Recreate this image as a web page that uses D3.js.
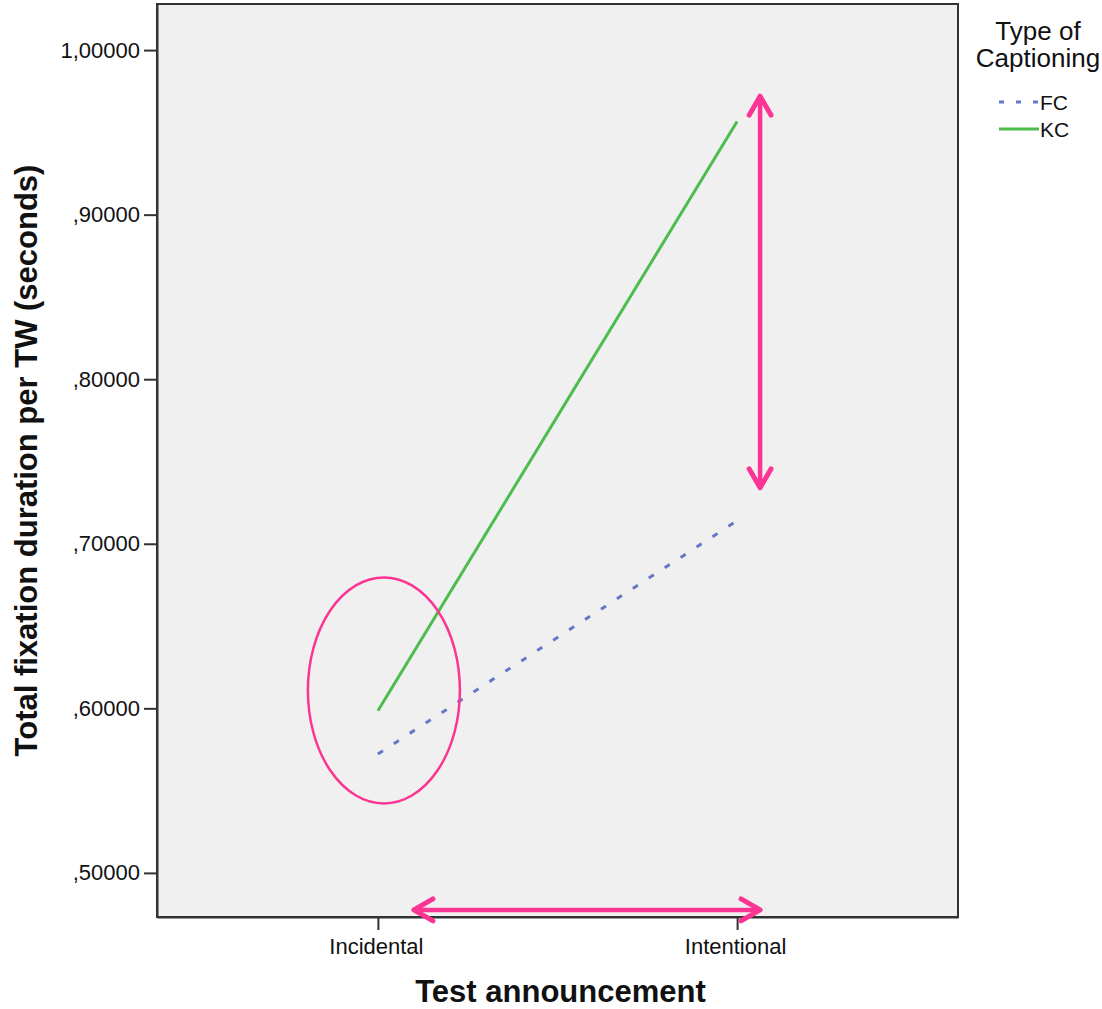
<!DOCTYPE html>
<html>
  <head>
    <meta charset="utf-8">
    <title>Total fixation duration per TW</title>
    <script src="https://d3js.org/d3.v7.min.js"></script>
    <style>
      body { margin: 0; background: #fff; }
      text { font-family: "Liberation Sans", Arial, sans-serif; fill: #111; }
    </style>
  </head>
  <body>
    <svg id="chart" width="1102" height="1009"></svg>
    <script>
      // data
      const categories = ["Incidental", "Intentional"];
      const series = ["FC", "KC"];
      const fcValues = [0.5722, 0.7140];
      const kcValues = [0.5985, 0.9566];
      const yTicks = [0.5, 0.6, 0.7, 0.8, 0.9, 1.0];
      const yTickLabels = [",50000", ",60000", ",70000", ",80000", ",90000", "1,00000"];

      const width = 1102, height = 1009;
      const margin = { top: 4, right: 144, bottom: 92, left: 157 };
      const pink = "#fb3593";

      const svg = d3.select("#chart");

      const x = d3.scalePoint()
        .domain(categories)
        .range([margin.left, width - margin.right])
        .padding(0.615);
      const y = d3.scaleLinear()
        .domain([0.4732, 1.028])
        .range([height - margin.bottom, margin.top]);

      // plot background
      svg.append("rect")
        .attr("x", margin.left)
        .attr("y", margin.top)
        .attr("width", width - margin.left - margin.right)
        .attr("height", height - margin.top - margin.bottom)
        .attr("fill", "#f0f0f0")
        .attr("stroke", "#333")
        .attr("stroke-width", 2);

      // axes
      const yAxis = d3.axisLeft(y)
        .tickValues(yTicks)
        .tickFormat(function(d, i) { return yTickLabels[i]; })
        .tickSizeInner(13)
        .tickSizeOuter(0)
        .tickPadding(4);
      const yAxisGroup = svg.append("g")
        .attr("transform", "translate(" + margin.left + ",0)")
        .call(yAxis);

      const xAxis = d3.axisBottom(x)
        .tickSizeInner(13)
        .tickSizeOuter(0)
        .tickPadding(8);
      const xAxisGroup = svg.append("g")
        .attr("transform", "translate(0," + (height - margin.bottom) + ")")
        .call(xAxis);

      [yAxisGroup, xAxisGroup].forEach(function(g) {
        g.select(".domain").attr("stroke", "#333").attr("stroke-width", 2);
        g.selectAll(".tick line").attr("stroke", "#333").attr("stroke-width", 2);
        g.selectAll(".tick text")
          .style("font-family", "'Liberation Sans', Arial, sans-serif")
          .style("font-size", "22px")
          .attr("fill", "#1a1a1a");
      });
      xAxisGroup.selectAll(".tick text").attr("dx", "-2");

      // axis titles
      svg.append("text")
        .attr("x", (margin.left + width - margin.right) / 2 + 3)
        .attr("y", 1002)
        .attr("text-anchor", "middle")
        .style("font-size", "31px")
        .style("font-weight", "bold")
        .text("Test announcement");
      svg.append("text")
        .attr("transform", "translate(37," + ((margin.top + height - margin.bottom) / 2) + ") rotate(-90)")
        .attr("text-anchor", "middle")
        .style("font-size", "31px")
        .style("font-weight", "bold")
        .text("Total fixation duration per TW (seconds)");

      // lines
      const line = d3.line()
        .x(function(d, i) { return x(categories[i]); })
        .y(function(d) { return y(d); });

      svg.append("path")
        .datum(fcValues)
        .attr("d", line)
        .attr("fill", "none")
        .attr("stroke", "#6577c6")
        .attr("stroke-width", 3)
        .attr("stroke-dasharray", "6,13");
      svg.append("path")
        .datum(kcValues)
        .attr("d", line)
        .attr("fill", "none")
        .attr("stroke", "#4cbd4c")
        .attr("stroke-width", 3);

      // legend
      const legend = svg.append("g");
      legend.append("text")
        .attr("x", 1038).attr("y", 40)
        .attr("text-anchor", "middle")
        .style("font-size", "26px")
        .text("Type of");
      legend.append("text")
        .attr("x", 1038).attr("y", 67)
        .attr("text-anchor", "middle")
        .style("font-size", "26px")
        .text("Captioning");
      series.forEach(function(s, i) {
        const ly = 102 + i * 27;
        legend.append("line")
          .attr("x1", 999).attr("x2", 1039)
          .attr("y1", ly).attr("y2", ly)
          .attr("stroke", i === 0 ? "#6577c6" : "#4cbd4c")
          .attr("stroke-width", 3)
          .attr("stroke-dasharray", i === 0 ? "5,12" : null);
        legend.append("text")
          .attr("x", 1040).attr("y", ly + 8)
          .style("font-size", "21px")
          .text(s);
      });

      // pink annotations
      const ann = svg.append("g")
        .attr("fill", "none")
        .attr("stroke", pink)
        .attr("stroke-linecap", "round")
        .attr("stroke-linejoin", "round");

      ann.append("ellipse")
        .attr("cx", x(categories[0]) + 6)
        .attr("cy", y(0.6109))
        .attr("rx", 76)
        .attr("ry", 113)
        .attr("stroke-width", 2.5);

      const arrowX = x(categories[1]) + 23;
      const vTop = y(0.972), vBot = y(0.734);
      ann.append("line")
        .attr("x1", arrowX).attr("x2", arrowX)
        .attr("y1", vTop + 2).attr("y2", vBot - 2)
        .attr("stroke-width", 4.5);
      ann.append("path")
        .attr("d", "M" + (arrowX - 11) + "," + (vTop + 19) + "L" + arrowX + "," + vTop + "L" + (arrowX + 11) + "," + (vTop + 19))
        .attr("stroke-width", 5);
      ann.append("path")
        .attr("d", "M" + (arrowX - 11) + "," + (vBot - 19) + "L" + arrowX + "," + vBot + "L" + (arrowX + 11) + "," + (vBot - 19))
        .attr("stroke-width", 5);

      const hY = y(0.4775);
      const hLeft = x(categories[0]) + 36, hRight = x(categories[1]) + 23;
      ann.append("line")
        .attr("x1", hLeft + 2).attr("x2", hRight - 2)
        .attr("y1", hY).attr("y2", hY)
        .attr("stroke-width", 4.5);
      ann.append("path")
        .attr("d", "M" + (hLeft + 19) + "," + (hY - 11) + "L" + hLeft + "," + hY + "L" + (hLeft + 19) + "," + (hY + 11))
        .attr("stroke-width", 5);
      ann.append("path")
        .attr("d", "M" + (hRight - 19) + "," + (hY - 11) + "L" + hRight + "," + hY + "L" + (hRight - 19) + "," + (hY + 11))
        .attr("stroke-width", 5);
    </script>
  </body>
</html>
